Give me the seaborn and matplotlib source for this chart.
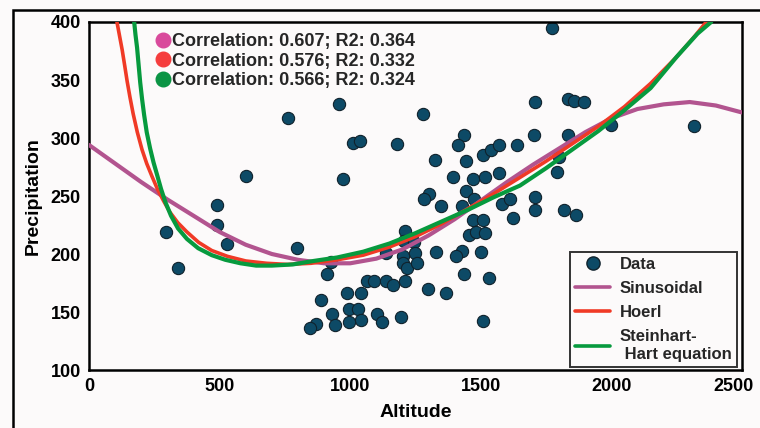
import pandas as pd
import matplotlib.pyplot as plt
import matplotlib.transforms as mtransforms
import seaborn as sns
from matplotlib.lines import Line2D

altitude = [959, 760, 1009, 1036, 602, 971, 491, 491, 295, 529,
            798, 341, 1772, 1707, 1834, 1857, 1895, 1277, 1178, 1435,
            1412, 1324, 1442, 1508, 1538, 1569, 1638, 1703, 1834, 2317,
            1393, 1469, 1515, 1569, 1792, 1799, 1442, 1300, 1281, 1347,
            1427, 1473, 1581, 1611, 1707, 1707, 1818, 1864, 1623, 1469,
            1508, 1999, 1208, 1205, 1243, 1139, 1201, 1247, 1327, 1201,
            1216, 1254, 928, 913, 1066, 1093, 1139, 1162, 1208, 1297,
            1366, 986, 1043, 890, 994, 1028, 932, 1101, 1193, 1043,
            1120, 994, 940, 871, 848, 1454, 1481, 1515, 1427, 1404,
            1500, 1435, 1531, 1508]
precipitation = [329, 317, 296, 297, 267, 265, 242, 225, 219, 209,
                 205, 188, 395, 331, 334, 332, 331, 321, 295, 303,
                 294, 281, 280, 285, 290, 294, 294, 303, 303, 310,
                 266, 265, 266, 270, 271, 284, 254, 252, 247, 241,
                 241, 247, 243, 247, 249, 238, 238, 234, 231, 229,
                 229, 311, 220, 211, 210, 201, 198, 201, 202, 192,
                 188, 192, 193, 183, 177, 177, 177, 173, 177, 170,
                 166, 166, 166, 160, 153, 153, 148, 148, 146, 143,
                 141, 141, 139, 140, 136, 216, 219, 218, 203, 198,
                 202, 183, 179, 142]

# fitted curves, sampled off the chart
sin_x = [0, 100, 200, 300, 400, 500, 600, 700, 800, 900, 1000, 1100, 1200,
         1300, 1400, 1500, 1600, 1700, 1800, 1900, 2000, 2100, 2200, 2300, 2400, 2500]
sin_y = [294, 278, 262, 247, 233, 219, 208, 200, 195, 192, 192, 196, 204,
         216, 230, 246, 262, 277, 291, 305, 317, 325, 329, 331, 328, 322]

hoerl_x = [107, 117, 127, 137, 146, 157, 169, 185, 203, 221, 241, 262, 285, 310, 340,
           375, 420, 470, 530, 600, 680, 760, 850, 950, 1050, 1150, 1250, 1350,
           1450, 1550, 1650, 1750, 1850, 1950, 2050, 2150, 2250, 2320, 2363]
hoerl_y = [400, 388, 376, 362, 349, 335, 321, 305, 290, 278, 267, 256, 246, 236, 227,
           219, 210, 203, 198, 194, 192, 191, 192, 195, 199, 206, 215, 226,
           239, 252, 266, 280, 295, 310, 327, 347, 370, 388, 400]

sh_x = [173, 178, 184, 190, 196, 203, 211, 221, 234, 247, 261, 276, 292, 314, 341,
        375, 418, 470, 522, 580, 640, 700, 780, 860, 950, 1050, 1150, 1250, 1350,
        1450, 1550, 1650, 1750, 1850, 1950, 2050, 2150, 2250, 2330, 2382]
sh_y = [400, 389, 378, 363, 348, 334, 320, 305, 291, 279, 268, 256, 245, 233, 222,
        213, 205, 199, 195, 192, 190, 190, 191, 194, 197, 202, 209, 218, 228,
        238, 249, 259, 274, 290, 306, 324, 343, 370, 390, 400]

stats_labels = ['Correlation: 0.607; R2: 0.364',
                'Correlation: 0.576; R2: 0.332',
                'Correlation: 0.566; R2: 0.324']
stats_colors = ['#d94a9c', '#f53d3d', '#0b9444']

model_names = ['Sinusoidal', 'Hoerl', 'Steinhart-\n Hart equation']
model_colors = ['#b2548f', '#f03a26', '#079a3e']

dot_color = '#0d4a66'
bg = '#fcfafa'

data = pd.DataFrame({'Altitude': altitude, 'Precipitation': precipitation})

sns.set_theme(style='white')
plt.rcParams['font.family'] = ['Liberation Sans', 'DejaVu Sans']
plt.rcParams['font.weight'] = 'bold'

fig = plt.figure(figsize=(7.6, 4.28), dpi=100)
fig.patch.set_facecolor(bg)
ax = fig.add_axes([0.1171, 0.1355, 0.8592, 0.8131])
ax.set_facecolor(bg)

sns.scatterplot(x='Altitude', y='Precipitation', data=data, ax=ax, s=78,
                color=dot_color, edgecolor='#10222c', linewidth=0.8, zorder=2, legend=False)
line_kw = dict(solid_joinstyle='round', solid_capstyle='round')
sns.lineplot(x=sin_x, y=sin_y, ax=ax, color=model_colors[0], lw=3, zorder=3, **line_kw)
sns.lineplot(x=hoerl_x, y=hoerl_y, ax=ax, color=model_colors[1], lw=2.6, zorder=4, **line_kw)
sns.lineplot(x=sh_x, y=sh_y, ax=ax, color=model_colors[2], lw=3, zorder=5, **line_kw)

ax.set_xlim(0, 2500)
ax.set_ylim(100, 400)
ax.set_xticks(range(0, 2501, 500))
ax.set_yticks(range(100, 401, 50))
ax.tick_params(length=0, direction='in', labelsize=13, pad=6, colors='black')
for lab in ax.get_xticklabels() + ax.get_yticklabels():
    lab.set_fontweight('bold')
# last x label sits a little left of its tick in the original
last = ax.get_xticklabels()[-1]
last.set_transform(last.get_transform() +
                   mtransforms.ScaledTranslation(-8 / 100, 0, fig.dpi_scale_trans))
# only two tick marks are visible in the original
ytk = ax.yaxis.get_major_ticks()[3]
xtk = ax.xaxis.get_major_ticks()[3]
ytk.tick1line.set_markersize(13)
xtk.tick1line.set_markersize(12)
for t in [ytk, xtk]:
    t.tick1line.set_markeredgewidth(1.8)
    t.tick1line.set_color('black')

ax.set_xlabel('Altitude', fontsize=14, fontweight='bold', color='black', labelpad=6)
ax.set_ylabel('Precipitation', fontsize=14, fontweight='bold', color='black', labelpad=6)
for sp in ax.spines.values():
    sp.set_color('black')
    sp.set_linewidth(1.8)

# correlation notes
h1 = [Line2D([], [], marker='o', ls='', markersize=10.5, markerfacecolor=c, markeredgecolor=c)
      for c in stats_colors]
leg1 = ax.legend(h1, stats_labels, loc='upper left', bbox_to_anchor=(0.104, 0.968),
                 frameon=False, prop={'size': 13, 'weight': 'bold'}, handlelength=0.7,
                 handletextpad=0.15, labelspacing=0.14, borderpad=0, borderaxespad=0)
ax.add_artist(leg1)

h2 = [Line2D([], [], marker='o', ls='', markersize=9.5, markerfacecolor=dot_color,
             markeredgecolor='#10222c')]
h2 += [Line2D([], [], color=c, lw=2.6) for c in model_colors]
leg2 = ax.legend(h2, ['Data'] + model_names, loc='lower right', bbox_to_anchor=(0.992, 0.009),
                 frameon=True, fancybox=False, edgecolor='#333333', facecolor=bg, framealpha=1,
                 prop={'size': 12, 'weight': 'bold'}, handlelength=2.1, handletextpad=0.6,
                 labelspacing=0.55, borderpad=0.3, borderaxespad=0)
leg2.get_frame().set_linewidth(1.4)

# outer frame of the figure (cut off at right and bottom in the original)
fx = 13 / 760
fy = 1 - 10 / 428
fig.add_artist(Line2D([fx, fx, 1.0], [0.0, fy, fy], transform=fig.transFigure,
                      color='black', lw=1.8, solid_joinstyle='miter', zorder=10))

fig.savefig('out.png', dpi=100, facecolor=bg)
